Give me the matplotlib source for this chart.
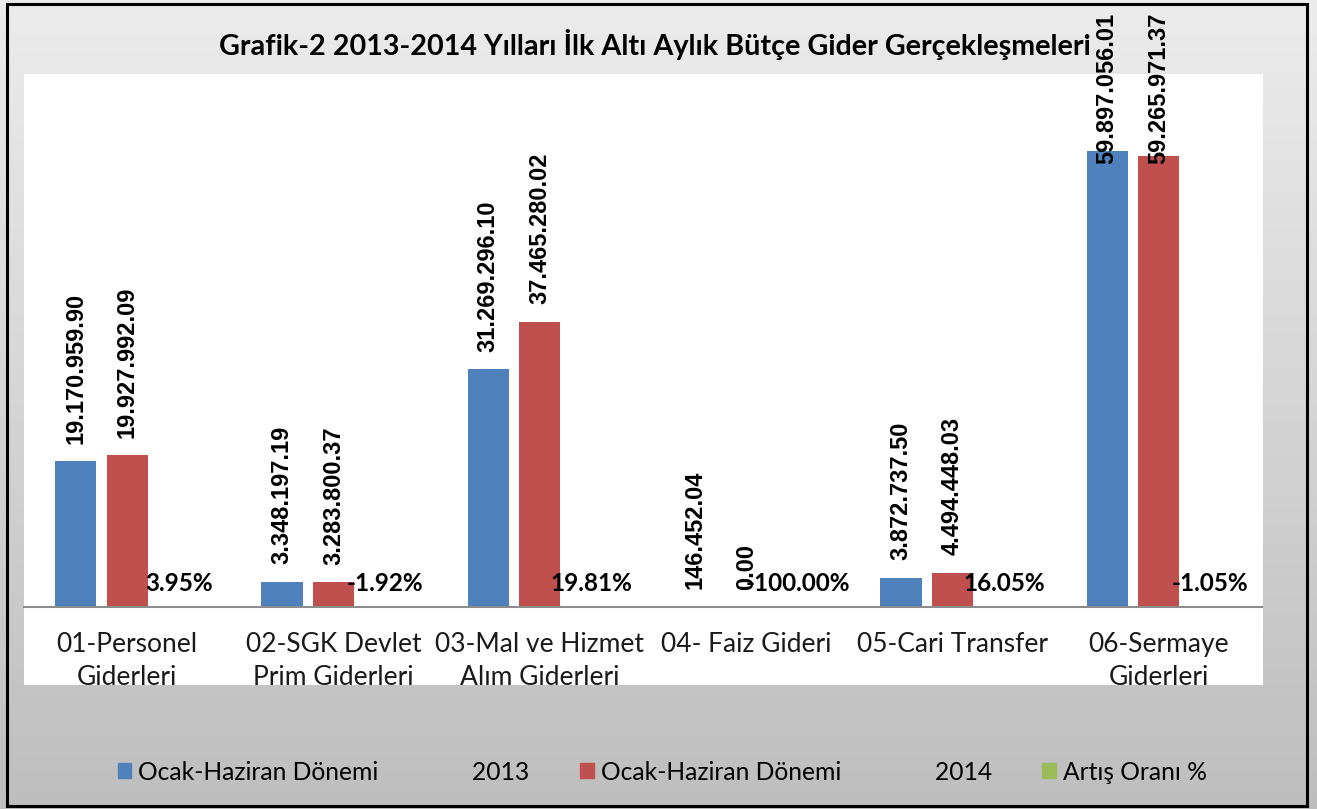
import matplotlib
matplotlib.use("Agg")
import matplotlib.pyplot as plt
import numpy as np
from matplotlib.patches import Rectangle, Patch

categories = ["01-Personel\nGiderleri", "02-SGK Devlet\nPrim Giderleri",
              "03-Mal ve Hizmet\nAlım Giderleri", "04- Faiz Gideri",
              "05-Cari Transfer", "06-Sermaye\nGiderleri"]
values_2013 = [19170959.90, 3348197.19, 31269296.10, 146452.04, 3872737.50, 59897056.01]
values_2014 = [19927992.09, 3283800.37, 37465280.02, 0.00, 4494448.03, 59265971.37]
increase_pct = [3.95, -1.92, 19.81, -100.00, 16.05, -1.05]
series_names = ["Ocak-Haziran Dönemi", "Ocak-Haziran Dönemi", "Artış Oranı %"]
series_years = ["2013", "2014", ""]
title = "Grafik-2 2013-2014 Yılları İlk Altı Aylık Bütçe Gider Gerçekleşmeleri"

W, H = 1317, 809
fig = plt.figure(figsize=(W / 100, H / 100), dpi=100)

# background gradient
bg = fig.add_axes([0, 0, 1, 1], zorder=-10)
grad = np.linspace(0, 1, 256).reshape(-1, 1)
top_c = np.array([0.925, 0.925, 0.925])
bot_c = np.array([0.745, 0.745, 0.745])
img = top_c[None, None, :] * (1 - grad[:, :, None]) + bot_c[None, None, :] * grad[:, :, None]
bg.imshow(img, aspect="auto", extent=[0, 1, 0, 1])
bg.set_xlim(0, 1); bg.set_ylim(0, 1)
bg.axis("off")

def fx(px):
    return px / W

def fy(py):
    return 1 - py / H

# white plot area
bg.add_patch(Rectangle((fx(24), fy(685)), fx(1263) - fx(24), fy(74) - fy(685),
                       facecolor="white", edgecolor="none", zorder=1))
# outer border
bg.add_patch(Rectangle((fx(7), fy(806)), fx(1307) - fx(7), fy(4) - fy(806),
                       facecolor="none", edgecolor="black", linewidth=2.2, zorder=5))

ax = fig.add_axes([fx(24), fy(607), fx(1262) - fx(24), fy(74) - fy(607)])
ax.patch.set_alpha(0)

x = np.arange(len(categories))
bw = 0.2
colors = ["#4F81BD", "#C0504D", "#9BBB59"]
ax.bar(x - 0.25, values_2013, bw, color=colors[0], zorder=2)
ax.bar(x, values_2014, bw, color=colors[1], zorder=2)
ax.bar(x + 0.25, increase_pct, bw, color=colors[2], zorder=2)

ax.set_xlim(-0.5, 5.5)
ax.set_ylim(0, 70e6)
for s in ["top", "left", "right"]:
    ax.spines[s].set_visible(False)
ax.spines["bottom"].set_color("#8c8c8c")
ax.spines["bottom"].set_linewidth(1.5)
ax.set_yticks([])
ax.set_xticks(x)
ax.set_xticklabels(categories, fontsize=19, family="Lato", color="#1a1a1a",
                   linespacing=1.38)
ax.tick_params(axis="x", length=0, pad=18)

def fmt(v):
    return f"{v:,.2f}".replace(",", ".")

labels = []
for xs, vals in [(x - 0.25, values_2013), (x, values_2014)]:
    for xi, v in zip(xs, vals):
        t = ax.annotate(fmt(v), (xi, v), xytext=(0, 12.5), textcoords="offset points",
                        rotation=90, ha="center", va="bottom", fontsize=17,
                        family="Liberation Sans", weight="bold", color="black",
                        zorder=5)
        labels.append(t)

for xi, p in zip(x + 0.25, increase_pct):
    ax.annotate(f"{p:.2f}%", (xi, 0), xytext=(0, 17), textcoords="offset points",
                ha="center", va="center", fontsize=17.5, family="Lato",
                weight="bold", color="black", zorder=5)

fig.text(0.497, fy(45), title, ha="center", va="center", fontsize=20.7,
         family="Lato", weight="bold", color="black")

handles = [Patch(color=c) for c in colors]
leg_labels = [n + (" " * 15 + y if y else "") for n, y in zip(series_names, series_years)]
fig.legend(handles, leg_labels, loc="center", bbox_to_anchor=(0.503, fy(772)),
           ncol=3, frameon=False, prop={"family": "Lato", "size": 17.7},
           handlelength=0.55, handleheight=0.55, handletextpad=0.3, columnspacing=2.05)

# clamp value labels inside the chart area
fig.canvas.draw()
r = fig.canvas.get_renderer()
for t in labels:
    bb = t.get_window_extent(r)
    top_limit = H - 13
    if bb.y1 > top_limit:
        shift_px = bb.y1 - top_limit
        ox, oy = t.xyann
        t.xyann = (ox, oy - shift_px * 72 / 100)

fig.savefig("out.png", dpi=100)
